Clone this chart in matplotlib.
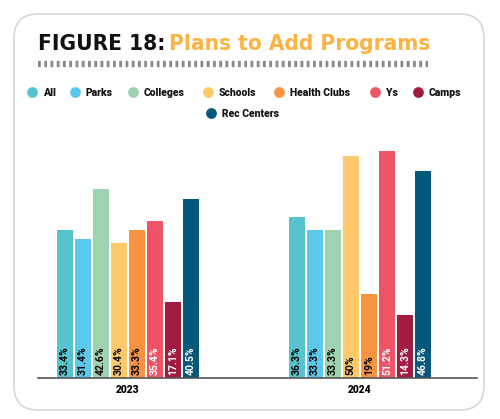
import matplotlib.pyplot as plt
from matplotlib.patches import FancyBboxPatch
import numpy as np

# data
years = ['2023', '2024']
segments = ['All', 'Parks', 'Colleges', 'Schools', 'Health Clubs', 'Ys', 'Camps', 'Rec Centers']
values_2023 = [33.4, 31.4, 42.6, 30.4, 33.3, 35.4, 17.1, 40.5]
values_2024 = [36.3, 33.3, 33.3, 50, 19, 51.2, 14.3, 46.8]
colors = ['#56C3CF', '#5BC9EB', '#9DD4AF', '#FEC96A', '#F79443', '#EF5466', '#A11B40', '#04587A']
label_colors = ['black', 'black', 'black', 'black', 'black', 'white', 'white', 'white']

W, H = 500, 419
fig = plt.figure(figsize=(W / 100, H / 100), dpi=100)

# overlay for card, title and legend (pixel coords)
bg = fig.add_axes([0, 0, 1, 1], zorder=0)
bg.set_xlim(0, W)
bg.set_ylim(H, 0)
bg.axis('off')

card = FancyBboxPatch((14, 14), 470, 396, boxstyle='round,pad=0,rounding_size=24',
                      facecolor='white', edgecolor='#d6d6d6', linewidth=1.2)
bg.add_patch(card)

title_kw = dict(fontsize=19, fontweight='bold', family='DejaVu Sans', fontstretch='condensed',
                va='center', ha='left')
t1 = bg.text(38, 44, 'FIGURE 18:', color='#111111', **title_kw)
fig.canvas.draw()
w1 = t1.get_window_extent().width
t2 = bg.text(38 + w1 + 5, 44, 'Plans to Add Programs', color='#FBB443', **title_kw)
fig.canvas.draw()
# shrink title so that it ends near x=430 like the original
total = w1 + 5 + t2.get_window_extent().width
scale = min(1.0, 392 / total)
t1.set_fontsize(19 * scale)
t2.set_fontsize(19 * scale)
fig.canvas.draw()
t2.set_x(38 + t1.get_window_extent().width + 4)

# barcode rule under the title
bg.plot([38, 428], [64, 64], color='#8a8a8a', lw=4.5, dashes=(0.45, 0.55), solid_capstyle='butt')

# legend
leg_kw = dict(fontsize=7.5, fontweight='heavy', family='Roboto', va='center', ha='left',
              color='#111111')
row1_x = [32, 75, 133, 208, 279, 375, 418]
for i, seg in enumerate(segments[:7]):
    bg.scatter(row1_x[i], 92, s=60, color=colors[i], linewidths=0)
    bg.text(row1_x[i] + 11, 92.5, seg, **leg_kw)
bg.scatter(211, 113, s=60, color=colors[7], linewidths=0)
bg.text(222, 113.5, segments[7], **leg_kw)

# bar chart
ax_left, ax_right = 38, 477
base_px, top_px = 378, 140
ax = fig.add_axes([ax_left / W, (H - base_px) / H, (ax_right - ax_left) / W, (base_px - top_px) / H],
                  zorder=1)
ax.patch.set_alpha(0)
ax.set_ylim(0, (base_px - top_px) / 4.43)
ax.set_xlim(-(128 - ax_left) / 232, 1 + (ax_right - 360) / 232)

pitch = 0.0776
width = 0.071
x = np.arange(len(years))
for i, seg in enumerate(segments):
    vals = [values_2023[i], values_2024[i]]
    pos = x + (i - 3.5) * pitch
    ax.bar(pos, vals, width=width, color=colors[i])
    for p, v in zip(pos, vals):
        ax.text(p, 0.7, f'{v:g}%', rotation=90, ha='center', va='bottom', fontsize=7.5,
                fontweight='bold', family='Roboto', color=label_colors[i])

ax.set_xticks(x)
ax.set_xticklabels(years, fontsize=7.5, fontweight='heavy', family='Roboto')
ax.tick_params(axis='x', length=0, pad=5)
ax.set_yticks([])
for s in ['left', 'right', 'top']:
    ax.spines[s].set_visible(False)
ax.spines['bottom'].set_color('#555555')
ax.spines['bottom'].set_linewidth(1.2)

fig.savefig('out.png', dpi=100)
